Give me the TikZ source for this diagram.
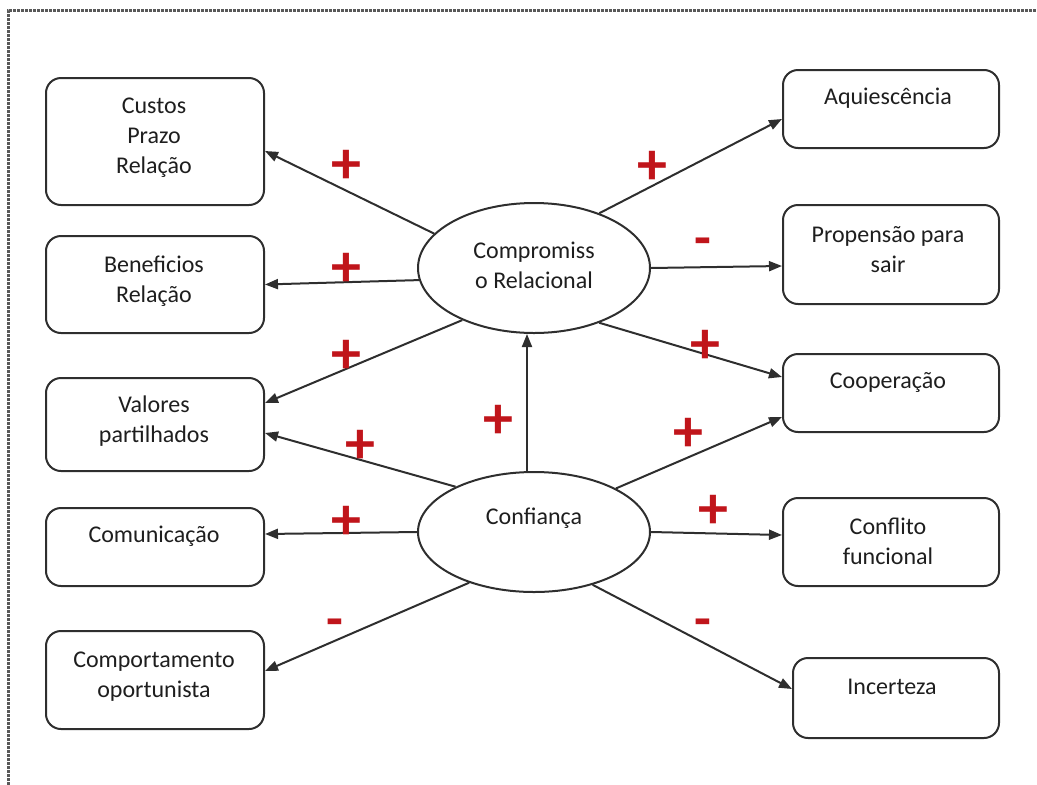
\documentclass[tikz,border=0pt]{standalone}
\usepackage{fontspec}
\setmainfont{Carlito}
\usetikzlibrary{arrows.meta,shapes.geometric}
\definecolor{linegray}{HTML}{2E2E2E}
\definecolor{txtgray}{HTML}{1E1E1E}
\definecolor{signred}{HTML}{C0151B}
\begin{document}
\begin{tikzpicture}[x=1pt,y=-1pt,
 box/.style={draw=linegray,line width=2pt,rounded corners=15pt,minimum width=218pt,inner sep=0pt,anchor=north west},
 ell/.style={ellipse,draw=linegray,line width=2pt,minimum width=232pt,inner sep=0pt},
 lbl/.style={font=\fontsize{24}{30}\selectfont,text=txtgray,align=center,inner sep=0pt},
 conn/.style={draw=linegray,line width=2pt,-{Triangle[length=13pt,width=10pt]}},
 plussign/.style={font=\fontsize{60}{60}\selectfont\bfseries,text=signred,inner sep=0pt},
 minussign/.style={font=\fontsize{55}{55}\selectfont\bfseries,text=signred,inner sep=0pt},
]
\useasboundingbox (0,0) rectangle (1037,785);
\draw[black!65,line width=3pt,densely dotted] (8,785) -- (8,10) -- (1037,10);

% left boxes
\node[box,minimum height=127pt] (custos) at (45,77) {};
\node[box,minimum height=97pt] (benef) at (45,235) {};
\node[box,minimum height=93pt] (valores) at (45,377) {};
\node[box,minimum height=78pt] (comun) at (45,507) {};
\node[box,minimum height=98pt] (comport) at (45,630) {};
% right boxes
\node[box,minimum width=216pt,minimum height=78pt] (aquies) at (782,69) {};
\node[box,minimum width=216pt,minimum height=99pt] (propens) at (782,204) {};
\node[box,minimum width=216pt,minimum height=78pt] (coop) at (782,353) {};
\node[box,minimum width=216pt,minimum height=88pt] (conflito) at (782,497) {};
\node[box,minimum width=206pt,minimum height=80pt] (incert) at (792,657) {};

% labels
\node[lbl] (tcustos) at (154,138) {Custos\\Prazo\\Relação};
\node[lbl] (tbenef) at (154,281) {Beneficios\\Relação};
\node[lbl] (tvalores) at (154,421) {Valores\\partilhados};
\node[lbl] (tcomun) at (154,536) {Comunicação};
\node[lbl] (tcomport) at (154,677) {Comportamento\\oportunista};
\node[lbl] (taquies) at (888,98) {Aquiescência};
\node[lbl] (tpropens) at (888,250) {Propensão para\\sair};
\node[lbl] (tcoop) at (888,382) {Cooperação};
\node[lbl] (tconflito) at (888,541) {Conflito\\funcional};
\node[lbl] (tincert) at (892,687) {Incerteza};

% ellipses
\node[ell,minimum height=130pt] (comp) at (534,268) {};
\node[lbl] (tcomp) at (534,265) {Compromiss\\o Relacional};
\node[ell,minimum height=120pt] (conf) at (534,532) {};
\node[lbl] (tconf) at (534,518) {Confiança};

% connectors from Compromisso Relacional
\draw[conn] (comp.161.7) -- ([yshift=-9.5pt]custos.east);
\draw[conn] (comp.186) -- (benef.east);
\draw[conn] (comp.216.8) -- ([yshift=21.5pt]valores.east);
\draw[conn] (comp.40.7) -- ([yshift=-10pt]aquies.west);
\draw[conn] (comp.0) -- ([yshift=-11.5pt]propens.west);
\draw[conn] (comp.-40) -- ([yshift=16pt]coop.west);
% connectors from Confiança
\draw[conn] ([xshift=-7pt]conf.north) -- ([xshift=-7pt]comp.south);
\draw[conn] (conf.150.9) -- ([yshift=-8.5pt]valores.east);
\draw[conn] (conf.180) -- ([yshift=13pt]comun.east);
\draw[conn] (conf.218.6) -- ([yshift=9pt]comport.east);
\draw[conn] (conf.28.2) -- ([yshift=-24pt]coop.west);
\draw[conn] (conf.0) -- ([yshift=7pt]conflito.west);
\draw[conn] (conf.-42.4) -- ([yshift=9pt]incert.west);

% signs
\node[plussign] (p1) at (346,167) {+};
\node[plussign] (p2) at (346,270) {+};
\node[plussign] (p3) at (346,357) {+};
\node[plussign] (p4) at (360,447) {+};
\node[plussign] (p5) at (498,422) {+};
\node[plussign] (p6) at (346,523) {+};
\node[plussign] (p7) at (652,168) {+};
\node[plussign] (p8) at (705,347) {+};
\node[plussign] (p9) at (688,435) {+};
\node[plussign] (p10) at (713,512) {+};
\node[minussign] (m1) at (703,247) {-};
\node[minussign] (m2) at (335,628) {-};
\node[minussign] (m3) at (703,628) {-};
\end{tikzpicture}
\end{document}
